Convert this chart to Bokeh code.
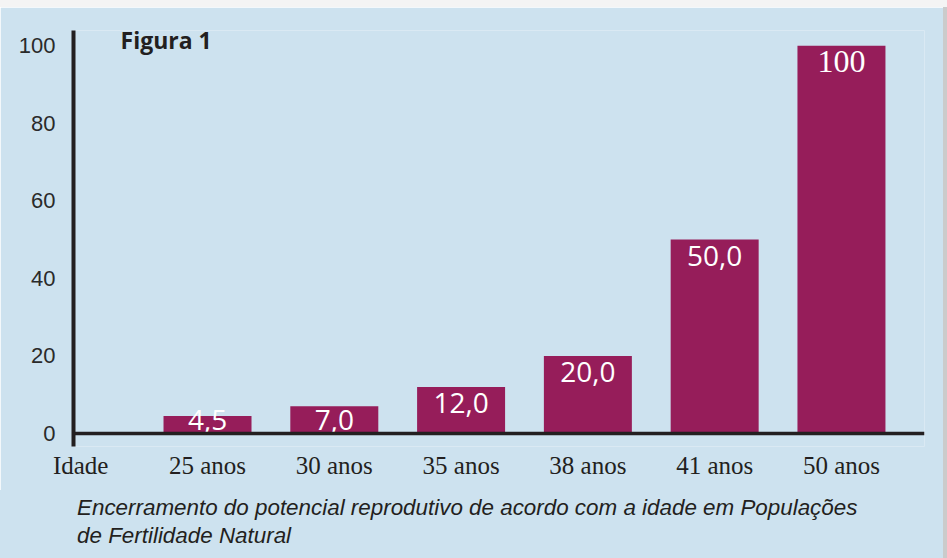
from bokeh.plotting import figure
from bokeh.models import ColumnDataSource, Range1d, FixedTicker, Span, Label, Spacer, Div
from bokeh.layouts import column, row
from bokeh.embed import file_html
from bokeh.resources import INLINE

# ---- data ----
ages = ["25 anos", "30 anos", "35 anos", "38 anos", "41 anos", "50 anos"]
values = [4.5, 7.0, 12.0, 20.0, 50.0, 100.0]
value_labels = ["4,5", "7,0", "12,0", "20,0", "50,0", "100"]
axis_name = "Idade"
y_ticks = [0, 20, 40, 60, 80, 100]
chart_title = "Figura 1"
caption_1 = "Encerramento do potencial reprodutivo de acordo com a idade em Populações"
caption_2 = "de Fertilidade Natural"

# ---- styles ----
BG = "#cde2ef"
BAR = "#961d5a"
INK = "#231f20"
label_fonts = ["Open Sans"] * 5 + ["Liberation Serif"]
label_sizes = ["28px"] * 5 + ["32px"]

xs = list(range(1, len(ages) + 1))
label_y = [max(v, 7.6) for v in values]

src = ColumnDataSource(dict(x=xs, top=values, ly=label_y, label=value_labels,
                            font=label_fonts, fsize=label_sizes))

p = figure(width=943, height=483, output_backend="svg", toolbar_location=None,
           x_range=Range1d(-0.057, 6.655), y_range=Range1d(-3.35, 103.9),
           min_border_left=73, min_border_right=19, min_border_top=23,
           min_border_bottom=44)
p.background_fill_color = BG
p.border_fill_color = BG
p.outline_line_color = None
p.grid.grid_line_color = None

p.vbar(x="x", top="top", bottom=0, width=0.694, source=src,
       fill_color=BAR, line_color=None)
p.text(x="x", y="ly", text="label", source=src, text_font="font",
       text_font_size="fsize", text_color="white", text_align="center",
       text_baseline="alphabetic", y_offset=16)

p.add_layout(Span(location=0, dimension="width", line_color=INK, line_width=3.5))

# y axis
ya = p.yaxis[0]
ya.ticker = FixedTicker(ticks=y_ticks)
ya.axis_line_color = INK
ya.axis_line_width = 4
ya.major_tick_line_color = None
ya.minor_tick_line_color = None
ya.major_label_text_font = "Liberation Sans"
ya.major_label_text_font_size = "22px"
ya.major_label_text_color = "#2a2a2a"
ya.major_label_standoff = 12

# x axis
xa = p.xaxis[0]
xa.ticker = FixedTicker(ticks=[0] + xs)
xa.major_label_overrides = {0: axis_name, **{x: a for x, a in zip(xs, ages)}}
xa.axis_line_color = None
xa.major_tick_line_color = None
xa.minor_tick_line_color = None
xa.major_label_text_font = "Liberation Serif"
xa.major_label_text_font_size = "25px"
xa.major_label_text_color = INK
xa.major_label_standoff = -1

p.add_layout(Label(x=0.314, y=101.5, text=chart_title, text_font="Open Sans",
                   text_font_style="bold", text_font_size="23px",
                   text_color=INK, text_baseline="alphabetic"))

caption_html = (
    '<div style="font-family:\'Liberation Sans\';font-style:italic;font-size:22.4px;'
    'line-height:27.5px;color:%s;padding:4px 0 0 77px;margin:0;">%s<br>%s</div>'
    % (INK, caption_1, caption_2)
)
caption = Div(text=caption_html, width=943, height=68,
              styles={"background-color": BG, "margin": "0"})

top_strip = Spacer(width=947, height=7, styles={"background-color": "#f4f4f4"})
side_strip = Spacer(width=4, height=551, styles={"background-color": "#cbcbcb"})
page = column(top_strip, row(column(p, caption, spacing=0), side_strip, spacing=0),
              spacing=0)
open("out.html", "w").write(file_html(page, INLINE))
